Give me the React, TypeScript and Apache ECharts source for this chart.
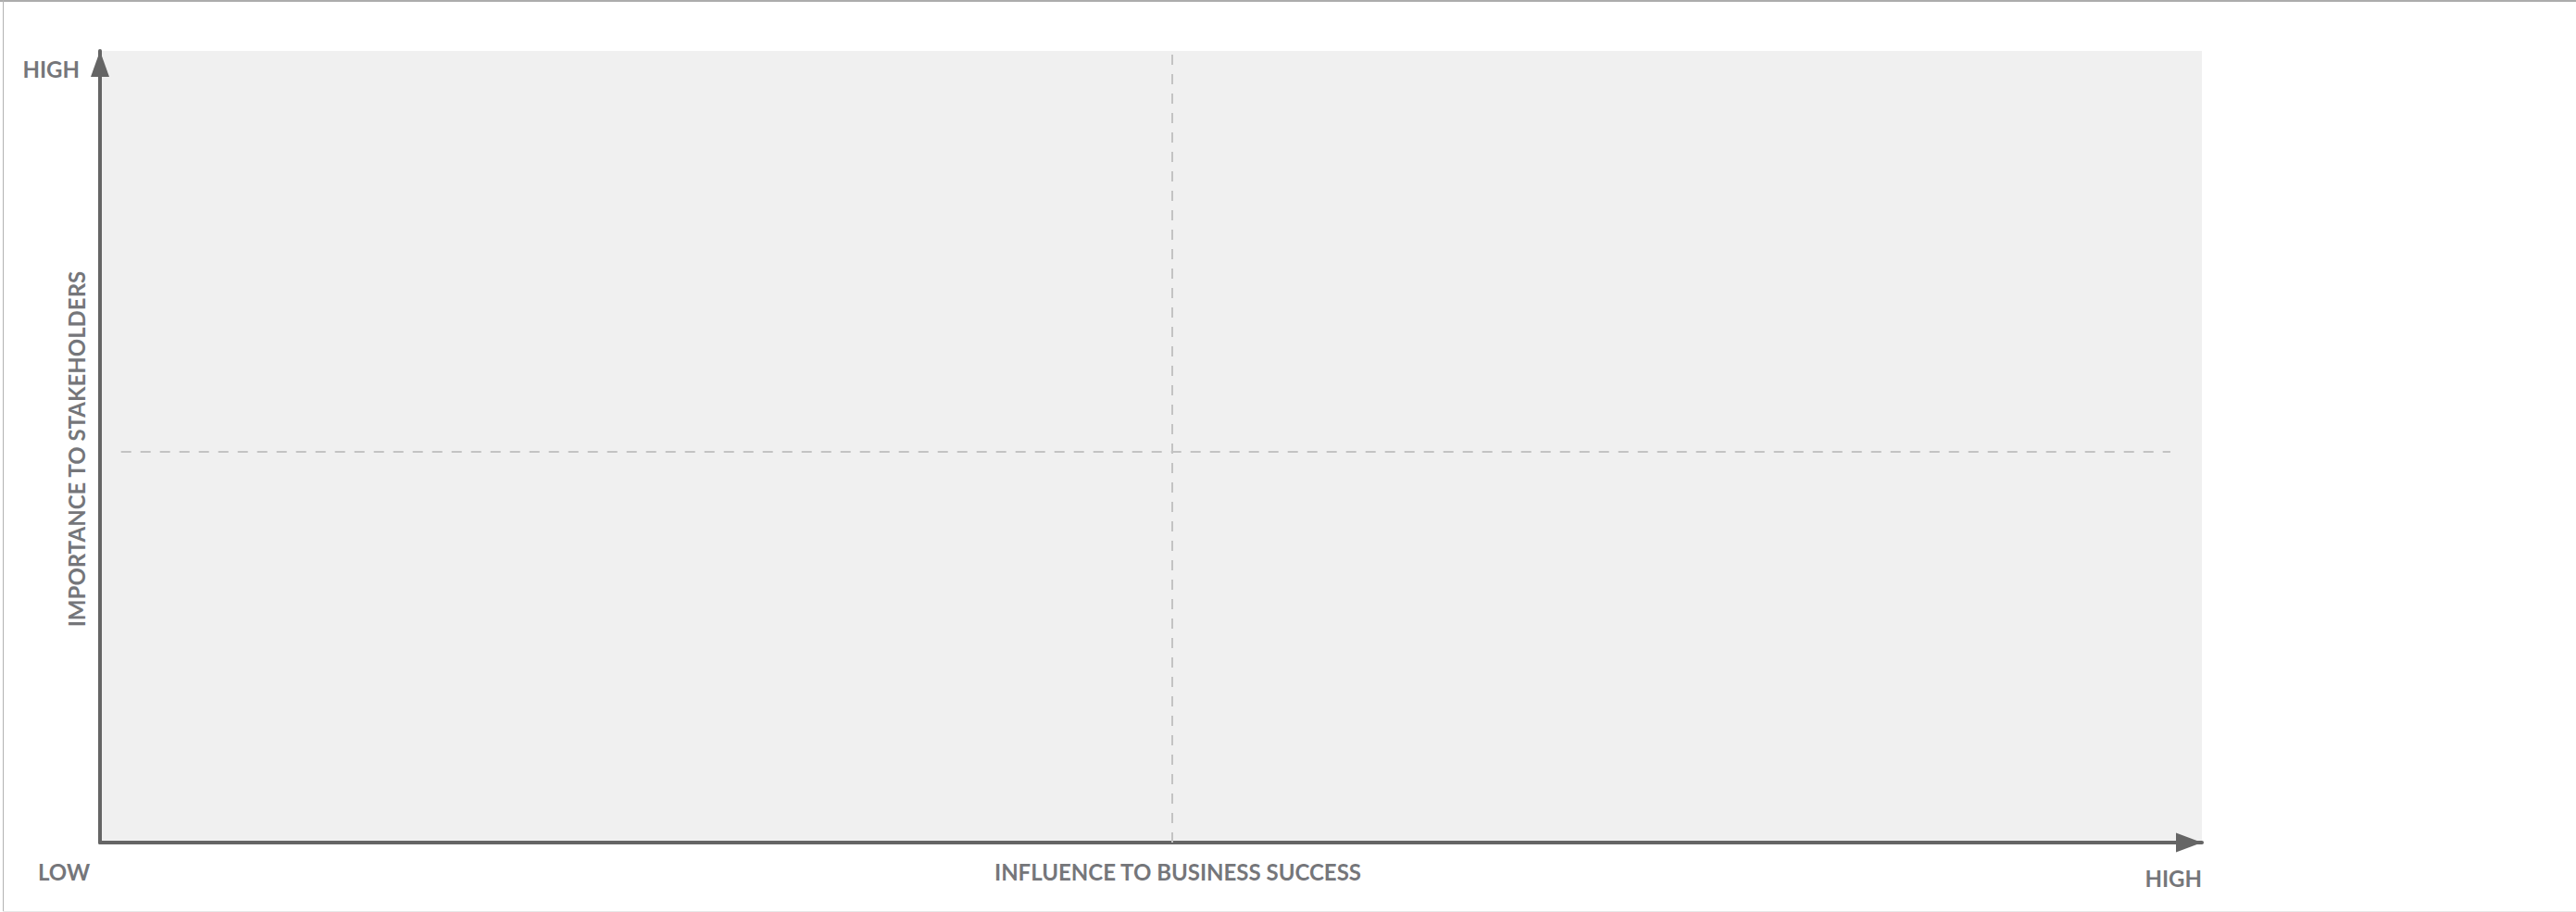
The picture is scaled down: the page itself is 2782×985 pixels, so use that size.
import React, { useEffect, useRef } from "react";
import * as echarts from "echarts";

// Axis ranges (abstract matrix scale)
const xRange = [0, 100];
const yRange = [0, 100];
// Quadrant divider positions
const dividerX = 51;
const dividerY = 49.4;
const dividerYSpan = [1, 98.5];

// Texts
const xAxisName = "INFLUENCE TO BUSINESS SUCCESS";
const yAxisName = "IMPORTANCE TO STAKEHOLDERS";
const lowLabel = "LOW";
const highLabel = "HIGH";

const W = 2782;
const H = 985;
const FONT_FAMILY = "Lato, 'Open Sans', sans-serif";
const TEXT_COLOR = "#75767a";
const AXIS_COLOR = "#656565";

export default function App() {
  const ref = useRef<HTMLDivElement>(null);

  useEffect(() => {
    if (!ref.current) return;
    const chart = echarts.init(ref.current, undefined, { renderer: "svg" });
    const axisLine = {
      show: true,
      symbol: ["none", "triangle"],
      symbolOffset: [0, -14],
      lineStyle: { color: AXIS_COLOR, width: 4 },
    };
    const textStyle = (size: number) => ({
      fill: TEXT_COLOR,
      font: `bold ${size}px ${FONT_FAMILY}`,
    });
    chart.setOption({
      animation: false,
      grid: {
        left: 108,
        right: W - 2378,
        top: 55,
        bottom: 75,
        show: true,
        backgroundColor: "#f0f0f0",
        borderWidth: 0,
      },
      xAxis: {
        type: "value",
        min: xRange[0],
        max: xRange[1],
        axisLine: { ...axisLine, symbolSize: [21, 28] },
        axisTick: { show: false },
        axisLabel: { show: false },
        splitLine: { show: false },
      },
      yAxis: {
        type: "value",
        min: yRange[0],
        max: yRange[1],
        axisLine: { ...axisLine, symbolSize: [20, 28] },
        axisTick: { show: false },
        axisLabel: { show: false },
        splitLine: { show: false },
      },
      series: [
        {
          type: "scatter",
          data: [],
          silent: true,
          markLine: {
            silent: true,
            symbol: ["none", "none"],
            label: { show: false },
            lineStyle: { color: "#c3c3c3", width: 2, type: [11, 10] },
            data: [
              [{ coord: [dividerYSpan[0], dividerY] }, { coord: [dividerYSpan[1], dividerY] }],
              [{ coord: [dividerX, yRange[0]] }, { coord: [dividerX, yRange[1]] }],
            ],
          },
        },
      ],
      graphic: [
        {
          type: "text",
          x: 86,
          y: 74,
          style: { ...textStyle(24), text: highLabel, textAlign: "right", textVerticalAlign: "middle" },
        },
        {
          type: "text",
          x: 41,
          y: 941,
          style: { ...textStyle(24), text: lowLabel, textAlign: "left", textVerticalAlign: "middle" },
        },
        {
          type: "text",
          x: 2378,
          y: 948,
          style: { ...textStyle(24), text: highLabel, textAlign: "right", textVerticalAlign: "middle" },
        },
        {
          type: "text",
          x: 1272,
          y: 941,
          style: { ...textStyle(24), text: xAxisName, textAlign: "center", textVerticalAlign: "middle" },
        },
        {
          type: "text",
          x: 82,
          y: 485,
          rotation: Math.PI / 2,
          style: { ...textStyle(24), text: yAxisName, textAlign: "center", textVerticalAlign: "middle" },
        },
      ],
    });
    return () => chart.dispose();
  }, []);

  return (
    <div style={{ position: "fixed", left: 0, top: 0, width: W, height: H, background: "#fff" }}>
      <div ref={ref} style={{ position: "absolute", left: 0, top: 0, width: W, height: H }} />
      <div style={{ position: "absolute", left: 0, top: 0, width: W, height: 2, background: "#acacac" }} />
      <div style={{ position: "absolute", left: 3, top: 0, width: 1, height: H, background: "#b4b4b4" }} />
      <div style={{ position: "absolute", left: 3, top: 984, width: W - 3, height: 1, background: "#e8e8e8" }} />
    </div>
  );
}
